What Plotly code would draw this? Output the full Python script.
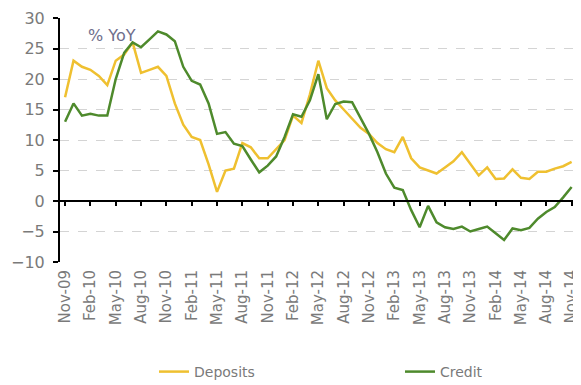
import plotly.graph_objects as go
import pandas as pd

# monthly categories Nov-09 .. Nov-14
months = [d.strftime("%b-%y") for d in pd.date_range("2009-11-01", "2014-11-01", freq="MS")]
tick_labels = months[::3]

deposits = [17, 23, 22, 21.5, 20.5, 19, 23, 24, 26, 21, 21.5, 22, 20.5, 16, 12.5, 10.5,
            10, 6, 1.5, 5, 5.3, 9.5, 8.8, 7, 7, 8.5, 10, 14, 12.8, 17.5, 23, 18.5,
            16.5, 15, 13.5, 12, 11, 9.5, 8.5, 8, 10.5, 7, 5.5, 5, 4.5, 5.5, 6.5, 8,
            6, 4.2, 5.5, 3.6, 3.7, 5.2, 3.8, 3.6, 4.8, 4.8, 5.3, 5.7, 6.4]

credit = [13, 16, 14, 14.3, 14, 14, 20, 24.3, 26, 25.2, 26.5, 27.8, 27.3, 26.2, 22, 19.7,
          19.1, 16, 11, 11.3, 9.4, 9, 6.8, 4.7, 5.8, 7.3, 10.5, 14.2, 13.8, 16.5, 20.8, 13.4,
          15.9, 16.3, 16.2, 13.7, 11, 8, 4.5, 2.2, 1.8, -1.5, -4.3, -0.8, -3.5, -4.3, -4.6, -4.2,
          -5, -4.6, -4.2, -5.3, -6.4, -4.5, -4.8, -4.4, -2.9, -1.8, -1, 0.6, 2.3]

DEP_COLOR = "#EFC030"
CRED_COLOR = "#4E8A2C"
TXT = "#7a7a7a"
FONT = "DejaVu Sans"

# page body adds an 8px margin, so the figure is 8px smaller than the window
W, H = 573, 377

fig = go.Figure()
fig.add_trace(go.Scatter(x=months, y=deposits, name="Deposits", mode="lines",
                         line=dict(color=DEP_COLOR, width=2.5),
                         legend="legend", showlegend=True))
fig.add_trace(go.Scatter(x=months, y=credit, name="Credit", mode="lines",
                         line=dict(color=CRED_COLOR, width=2.5), xaxis="x2",
                         legend="legend2", showlegend=True))

xrange = [-0.6, 60.4]
leg_common = dict(orientation="h", yref="container", y=0.0345, yanchor="middle",
                  xref="container", xanchor="left", bgcolor="rgba(0,0,0,0)",
                  font=dict(size=14, color=TXT, family=FONT))

fig.update_layout(
    width=W, height=H, showlegend=True,
    margin=dict(l=52, r=6, t=10, b=123, autoexpand=False),
    plot_bgcolor="white", paper_bgcolor="white",
    font=dict(family=FONT, color=TXT),
    xaxis=dict(
        type="category", categoryarray=months, range=xrange,
        tickvals=tick_labels, ticktext=tick_labels, tickangle=-90,
        tickfont=dict(size=15, color=TXT), showgrid=False, showline=False,
        ticks="", zeroline=False, ticklabelstandoff=4, ticklabeloverflow="allow",
    ),
    xaxis2=dict(
        type="category", categoryarray=months, range=xrange,
        overlaying="x", anchor="free", position=0.25, side="bottom",
        tickvals=tick_labels, showticklabels=False, showgrid=False,
        showline=True, linecolor="black", linewidth=2,
        ticks="outside", ticklen=4, tickwidth=2, tickcolor="black",
    ),
    yaxis=dict(
        range=[-10, 30], dtick=5, tickfont=dict(size=16, color=TXT),
        showline=True, linecolor="black", linewidth=2,
        ticks="outside", ticklen=5, tickwidth=2, tickcolor="black",
        showgrid=True, gridcolor="#d4d4d4", griddash="dash", gridwidth=1,
        zeroline=False, ticklabelstandoff=5, ticklabeloverflow="allow",
    ),
    legend=dict(x=146 / W, **leg_common),
    legend2=dict(x=392 / W, **leg_common),
    annotations=[dict(text="% YoY", x=0.05, y=0.93, xref="paper", yref="paper",
                      xanchor="left", yanchor="middle", showarrow=False,
                      font=dict(size=16, color="#6e6e8c", family=FONT))],
)

fig.write_html("out.html")
